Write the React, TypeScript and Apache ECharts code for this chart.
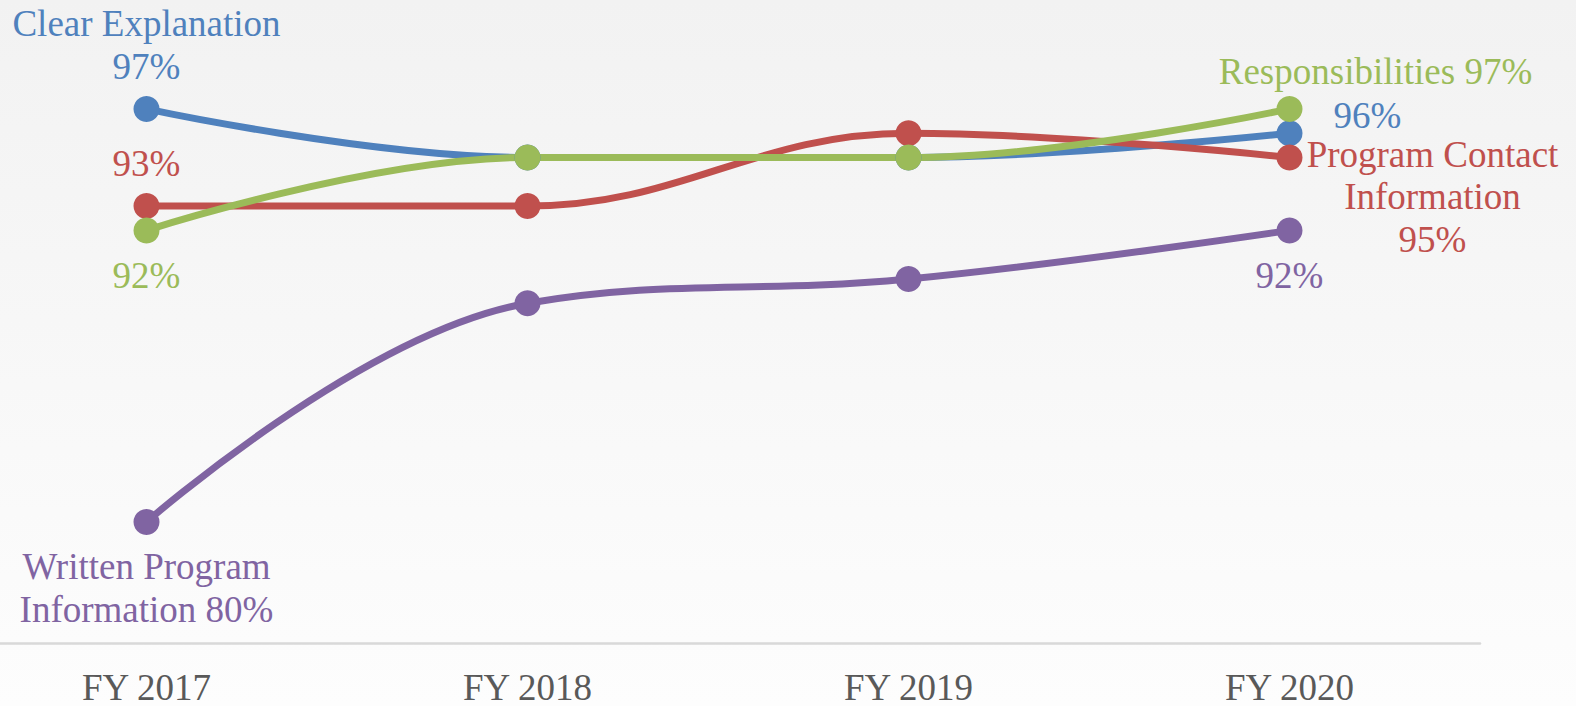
import React, { useEffect, useRef } from "react";
import * as echarts from "echarts";

const categories = ["FY 2017", "FY 2018", "FY 2019", "FY 2020"];
const clearExplanation = [97, 95, 95, 96];
const programContact = [93, 93, 96, 95];
const responsibilities = [92, 95, 95, 97];
const writtenProgram = [80, 89, 90, 92];

const BLUE = "#4f81bd";
const RED = "#c0504d";
const GREEN = "#9bbb59";
const PURPLE = "#8064a2";
const FONT = "Times New Roman, Liberation Serif, serif";

type LabelSpec = { idx: number; text: string; dx: number; dy: number };

function buildData(values: number[], color: string, specs: LabelSpec[]) {
  return values.map((v, i) => {
    const s = specs.find((x) => x.idx === i);
    if (!s) return { value: v };
    return {
      value: v,
      label: {
        show: true,
        position: "inside",
        offset: [s.dx, s.dy],
        formatter: s.text,
        color,
        fontFamily: FONT,
        fontSize: 37,
        lineHeight: 42.5,
        align: "center",
        verticalAlign: "middle",
      },
    };
  });
}

export default function App() {
  const ref = useRef<HTMLDivElement>(null);
  useEffect(() => {
    if (!ref.current) return;
    const chart = echarts.init(ref.current, undefined, { renderer: "svg" });
    const mk = (name: string, color: string, values: number[], specs: LabelSpec[]) => ({
      name,
      type: "line",
      smooth: 0.4,
      symbol: "circle",
      symbolSize: 26,
      showAllSymbol: true,
      lineStyle: { color, width: 7 },
      itemStyle: { color },
      label: { show: false },
      emphasis: { disabled: true },
      data: buildData(values, color, specs),
    });
    chart.setOption({
      animation: false,
      textStyle: { fontFamily: FONT },
      backgroundColor: {
        type: "linear",
        x: 0,
        y: 0,
        x2: 0,
        y2: 1,
        colorStops: [
          { offset: 0, color: "#f2f2f2" },
          { offset: 1, color: "#fdfdfd" },
        ],
      },
      grid: { left: 0, right: 96, top: 36, bottom: 59, containLabel: false },
      xAxis: {
        type: "category",
        data: categories,
        boundaryGap: true,
        axisLine: { show: true, lineStyle: { color: "#d9d9d9", width: 2.5 } },
        axisTick: { show: false },
        axisLabel: {
          color: "#595959",
          fontFamily: FONT,
          fontSize: 37,
          lineHeight: 28,
          margin: 44,
          verticalAlign: "middle",
        },
        splitLine: { show: false },
      },
      yAxis: {
        type: "value",
        min: 75,
        max: 100,
        show: false,
        splitLine: { show: false },
      },
      series: [
        mk("Clear Explanation", BLUE, clearExplanation, [
          { idx: 0, text: "Clear Explanation\n{c}%", dx: 0, dy: -64 },
          { idx: 3, text: "{c}%", dx: 78, dy: -17.5 },
        ]),
        mk("Program Contact Information", RED, programContact, [
          { idx: 0, text: "{c}%", dx: 0, dy: -43 },
          { idx: 3, text: "Program Contact\nInformation\n{c}%", dx: 143, dy: 39 },
        ]),
        mk("Responsibilities", GREEN, responsibilities, [
          { idx: 0, text: "{c}%", dx: 0, dy: 45 },
          { idx: 3, text: "Responsibilities {c}%", dx: 86, dy: -37 },
        ]),
        mk("Written Program Information", PURPLE, writtenProgram, [
          { idx: 0, text: "Written Program\nInformation {c}%", dx: 0, dy: 66 },
          { idx: 3, text: "{c}%", dx: 0, dy: 45 },
        ]),
      ],
    });
    return () => chart.dispose();
  }, []);
  return (
    <div style={{ position: "absolute", left: 0, top: 0, width: 1576, height: 706, overflow: "hidden" }}>
      <div
        ref={ref}
        style={{ position: "absolute", left: -44, top: 0, width: 1620, height: 706 }}
      />
    </div>
  );
}
